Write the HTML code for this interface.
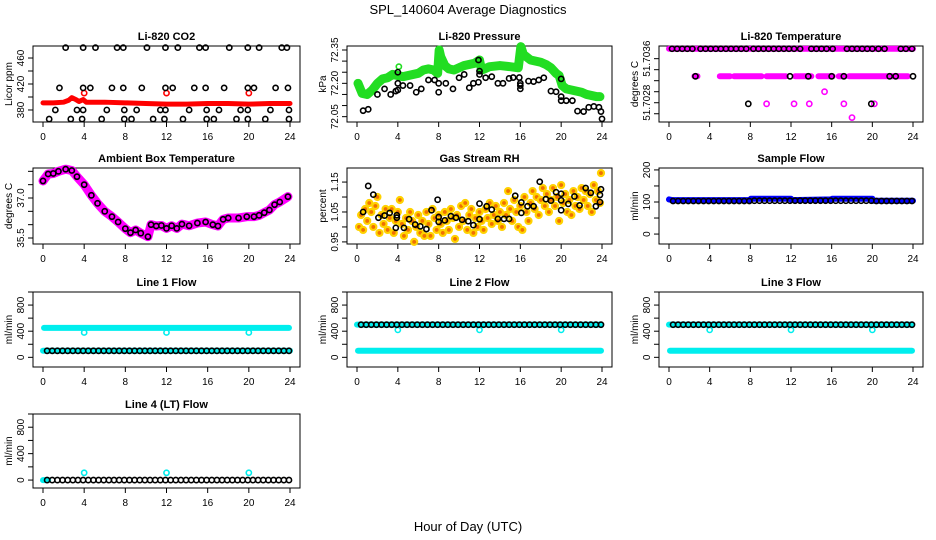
<!DOCTYPE html>
<html><head><meta charset="utf-8"><style>
html,body{margin:0;padding:0;background:#fff;}
svg{display:block;font-family:"Liberation Sans",sans-serif;}
</style></head><body>
<svg id="chart" width="936" height="540" viewBox="0 0 936 540">
<rect width="936" height="540" fill="#fff"/>
<text x="468" y="14" text-anchor="middle" font-size="13">SPL_140604  Average Diagnostics</text>
<text x="468" y="531" text-anchor="middle" font-size="13">Hour of Day (UTC)</text>
</svg>
<script>
// ---------- data ----------
const xTicks = [0,4,8,12,16,20,24];
// CO2
const co2RedLine = [[0,391],[1,391],[2,392],[2.5,395],[2.8,399],[3.2,396],[3.5,393],[3.9,396],[4.2,392],[6,392],[8,391],[10,390],[12,389],[14,389],[16,390],[18,390],[20,389],[22,390],[24,390]];
const co2RedPts = [[4,406],[12,406],[20,406]];
const co2TopH = [2.2,3.9,5.1,7.2,7.8,10.1,11.9,13.1,15.2,15.8,18.1,19.9,21,23.2,23.7];
const co2MidH = [1.6,3.9,4.6,6.7,7.8,9.6,11.9,12.6,14.7,15.8,17.6,19.9,20.5,22.6,23.8];
const co2LowH = [1.2,3.3,3.9,6.2,7.9,9.1,11.4,11.9,14.2,15.9,17.1,19.2,19.9,22.1,23.9];
const co2BotH = [0.6,2.7,3.8,5.7,7.9,8.6,10.7,11.8,13.6,15.9,16.6,18.8,19.9,21.6,23.9];
const co2Levels = [476,414,380,366];
// Pressure
const presGreen = [[0.1,72.20],[0.5,72.155],[1,72.15],[1.5,72.17],[2,72.20],[2.5,72.22],[3,72.225],[3.5,72.24],[4,72.235],[4.5,72.23],[5,72.235],[5.5,72.24],[6,72.245],[6.5,72.26],[7,72.265],[7.5,72.26],[7.9,72.245],[8.05,72.35],[8.2,72.32],[8.6,72.28],[9,72.265],[9.5,72.26],[10,72.27],[10.5,72.28],[11,72.285],[11.5,72.29],[12,72.305],[12.2,72.26],[12.5,72.265],[13,72.275],[14,72.28],[15,72.275],[15.8,72.27],[16.05,72.365],[16.3,72.33],[17,72.305],[17.5,72.3],[18,72.295],[18.5,72.285],[19,72.27],[19.5,72.245],[19.8,72.235],[20.1,72.19],[20.5,72.175],[21,72.17],[21.5,72.165],[22,72.16],[22.5,72.15],[23,72.145],[23.5,72.14],[23.8,72.14]];
const presGreenPts = [[0.1,72.20],[4.1,72.275],[8.05,72.35],[8.15,72.325],[12,72.305],[16.05,72.365],[16.15,72.33],[19.8,72.235]];
const presBlack = [[0.6,72.077],[1.1,72.083],[2,72.15],[2.7,72.175],[3.3,72.15],[3.8,72.165],[4,72.17],[4,72.2],[4,72.25],[4.5,72.19],[5.2,72.19],[5.8,72.16],[6.3,72.175],[7,72.215],[7.6,72.215],[8,72.2],[8,72.16],[8.7,72.2],[9.4,72.175],[10,72.225],[10.5,72.24],[11,72.18],[11.4,72.2],[11.9,72.205],[12,72.24],[12,72.255],[11.9,72.305],[12.6,72.225],[13.2,72.23],[13.8,72.2],[14.3,72.2],[14.9,72.222],[15.3,72.226],[15.9,72.226],[16,72.2],[16,72.19],[16,72.175],[16.8,72.21],[17.3,72.208],[17.8,72.215],[18.3,72.225],[19,72.165],[19.5,72.162],[20,72.22],[20,72.14],[20,72.122],[20.5,72.122],[21.1,72.122],[21.6,72.075],[22.2,72.073],[22.7,72.092],[23.2,72.096],[23.7,72.092],[23.9,72.073],[24,72.04]];
// Temperature
const tempTopBlackH = [0.3,0.8,1.3,1.8,2.3,3.1,3.6,4.1,4.6,5.1,5.6,6.1,6.6,7.1,7.6,8.3,8.8,9.3,9.8,10.3,10.8,11.3,11.8,12.3,12.9,14.0,14.5,15.0,15.5,16.1,17.5,18.0,18.5,19.0,19.5,20.0,20.6,21.2,22.8,23.3,23.9];
const tempMidMagSeg = [[2.5,2.8],[5,6],[6.4,9.1],[9.6,11.5],[12.4,14],[14.7,16.1],[16.7,17.3],[17.7,23.5]];
const tempMidBlackH = [2.6,11.9,13.7,16,17.2,21.7,22.3,24];
const tempLowBlackH = [7.8,19.9];
const tempLowMagH = [9.6,12.3,13.8,17.2,20.2];
const tempOddMag = [[15.3,51.7030],[18,51.70253]];
const tempLevels = [51.70378,51.70328,51.70278];
// Ambient
const ambient = [[0,37.64],[0.5,37.9],[1,37.92],[1.5,38.0],[2.2,38.08],[2.8,38.03],[3.3,37.8],[4,37.5],[4.7,37.1],[5.3,36.8],[6,36.5],[6.7,36.3],[7.3,36.1],[8,35.85],[8.5,35.7],[9,35.8],[9.5,35.68],[10.2,35.55],[10.5,36.0],[11,35.95],[11.5,35.97],[12,35.86],[12.5,35.96],[13,35.86],[13.5,36.02],[14.2,35.96],[15,36.06],[15.8,36.1],[16.5,36.0],[17,35.95],[17.5,36.2],[18,36.25],[19,36.25],[19.8,36.3],[20.5,36.3],[21,36.35],[21.5,36.45],[22,36.55],[22.5,36.75],[23,36.85],[23.8,37.05]];
// RH
const rhBlack = [[0.6,1.05],[1.1,1.137],[1.6,1.108],[2.1,1.031],[2.7,1.038],[3.2,1.047],[3.8,0.997],[3.9,1.031],[3.9,1.039],[4.6,0.997],[5.1,1.026],[5.7,1.008],[6.2,1.002],[6.8,0.993],[7.3,1.056],[7.9,1.091],[8,1.033],[8,1.017],[8.6,1.022],[9.2,1.036],[9.7,1.031],[10.3,1.024],[10.9,1.019],[11.4,1.006],[12,1.078],[12,1.026],[12.7,1.069],[13.2,1.058],[13.8,1.027],[14.4,1.027],[14.9,1.027],[15.5,1.104],[16.1,1.082],[16.1,1.047],[16.7,1.069],[17.3,1.069],[17.9,1.151],[18.5,1.093],[19,1.088],[19.5,1.116],[20,1.111],[20,1.089],[20,1.056],[20.7,1.077],[21.3,1.102],[21.8,1.072],[22.4,1.13],[22.9,1.114],[23.4,1.069],[23.8,1.107],[23.9,1.126],[23.8,1.083]];
const rhYellow = [[0.2,1.00],[0.4,1.04],[0.6,0.99],[0.8,1.06],[1.0,1.02],[1.2,1.08],[1.4,1.05],[1.6,1.00],[1.8,1.07],[2.0,1.10],[2.2,0.98],[2.4,1.04],[2.6,1.01],[2.8,1.06],[3.0,0.99],[3.2,1.03],[3.4,1.06],[3.6,0.98],[3.8,1.02],[4.0,1.05],[4.2,1.09],[4.4,1.01],[4.6,0.97],[4.8,1.03],[5.0,0.99],[5.2,1.05],[5.4,1.02],[5.6,0.95],[5.8,1.00],[6.0,1.04],[6.2,0.98],[6.4,1.02],[6.6,0.97],[6.8,1.05],[7.0,1.01],[7.2,0.97],[7.4,1.06],[7.6,1.03],[7.8,0.99],[8.0,1.04],[8.2,1.01],[8.4,0.98],[8.6,1.05],[8.8,1.02],[9.0,0.99],[9.2,1.06],[9.4,1.03],[9.6,0.96],[9.8,1.04],[10.0,1.00],[10.2,1.07],[10.4,1.02],[10.6,1.08],[10.8,0.99],[11.0,1.04],[11.2,1.06],[11.4,0.98],[11.6,1.03],[11.8,1.00],[12.0,1.05],[12.2,1.02],[12.4,0.99],[12.6,1.06],[12.8,1.03],[13.0,1.08],[13.2,1.01],[13.4,1.04],[13.6,1.07],[13.8,1.02],[14.0,1.05],[14.2,1.00],[14.4,1.08],[14.6,1.04],[14.8,1.12],[15.0,1.06],[15.2,1.02],[15.4,1.09],[15.6,1.05],[15.8,1.00],[16.0,1.07],[16.2,0.99],[16.4,1.10],[16.6,1.05],[16.8,1.02],[17.0,1.08],[17.2,1.12],[17.4,1.06],[17.6,1.10],[17.8,1.04],[18.0,1.09],[18.2,1.13],[18.4,1.07],[18.6,1.11],[18.8,1.05],[19.0,1.09],[19.2,1.13],[19.4,1.07],[19.6,1.10],[19.8,1.02],[20.0,1.14],[20.2,1.08],[20.4,1.11],[20.6,1.05],[20.8,1.09],[21.0,1.04],[21.2,1.12],[21.4,1.07],[21.6,1.10],[21.8,1.06],[22.0,1.13],[22.2,1.09],[22.4,1.12],[22.6,1.07],[22.8,1.11],[23.0,1.05],[23.2,1.14],[23.4,1.09],[23.6,1.12],[23.8,1.08],[23.9,1.18]];
// Sample flow
const sampleBlue = [[0,108],[0.3,106],[8,106],[8.05,110],[12,110],[12.05,106],[16,108],[16.05,110],[20,110],[20.05,104],[24,104]];
const sampleBlack = [103,103,103,103,103,103,103,103,103,103,103,103,103,103,103,103,104,104,104,104,104,104,104,104,104,104,104,104,104,104,104,104,104,104,104,104,104,104,104,104,103,103,103,103,103,103,103,103];
// Line flows
const line1Black = [100,100,100,100,100,100,100,100,100,100,100,100,100,100,100,100,100,100,100,100,100,100,100,100,100,100,100,100,100,100,100,100,100,100,100,100,100,100,100,100,100,100,100,100,100,100,100,100];
const line23Black = [500,500,500,500,500,500,500,500,500,500,500,500,500,500,500,500,500,500,500,500,500,500,500,500,500,500,500,500,500,500,500,500,500,500,500,500,500,500,500,500,500,500,500,500,500,500,500,500];
const line4Black = [0,0,0,0,0,0,0,0,0,0,0,0,0,0,0,0,0,0,0,0,0,0,0,0,0,0,0,0,0,0,0,0,0,0,0,0,0,0,0,0,0,0,0,0,0,0,0,0];
const line1Cyan = [[0.1,450],[23.9,450]];
const line1CyanLow = [[0,100],[24,100]];
const line1CyanPts = [[4,380],[12,380],[20,380]];
const line23CyanHigh = [[0,500],[23.9,500]];
const line23CyanLow = [[0.1,100],[23.9,100]];
const line23CyanPts = [[4,420],[12,420],[20,420]];
const line4Cyan = [[0,0],[0.5,0]];
const line4CyanPts = [[4,110],[12,110],[20,110]];

// ---------- drawing ----------
const NS = "http://www.w3.org/2000/svg";
const svg = document.getElementById('chart');
const cols = [[33,300],[347,612],[659,923]];
const rows = [[46,122],[168,244],[292,367],[414,488]];
function mk(tag, attrs, parent){
  const e = document.createElementNS(NS, tag);
  for (const k in attrs) e.setAttribute(k, attrs[k]);
  (parent||svg).appendChild(e);
  return e;
}
function panel(c, r, ylo, yhi, yTicks, yLabels, title, ylab, name){
  const [x0,x1] = cols[c], [y0,y1] = rows[r];
  const g = mk('g', {});
  
  
  const sx = h => x0 + 10 + h/24*(x1-x0-20);
  const sy = v => y1 - (v-ylo)/(yhi-ylo)*(y1-y0);
  const t = mk('text', {x:(x0+x1)/2, y:y0-6, 'text-anchor':'middle', 'font-size':11, 'font-weight':'bold'}, g);
  t.textContent = title;
  
  
  const box = mk('rect', {x:x0, y:y0, width:x1-x0, height:y1-y0, fill:'none', stroke:'#000', 'stroke-width':1}, g);
  
  
  const xa = mk('g', {}, g);
  
  
  mk('line', {x1:sx(0), x2:sx(24), y1:y1, y2:y1, stroke:'#000'}, xa);
  xTicks.forEach(h => {
    mk('line', {x1:sx(h), x2:sx(h), y1:y1, y2:y1+5, stroke:'#000'}, xa);
    const l = mk('text', {x:sx(h), y:y1+18, 'text-anchor':'middle', 'font-size':10}, xa);
    l.textContent = h;
  });
  const ya = mk('g', {}, g);
  
  
  yTicks.forEach(v => mk('line', {x1:x0-5, x2:x0, y1:sy(v), y2:sy(v), stroke:'#000'}, ya));
  yLabels.forEach(v => {
    const l = mk('text', {x:0, y:0, 'text-anchor':'middle', 'font-size':10,
      transform:`translate(${x0-9},${sy(v)}) rotate(-90)`}, ya);
    l.textContent = String(v);
  });
  const yt = mk('text', {x:0, y:0, 'text-anchor':'middle', 'font-size':10,
    transform:`translate(${x0-21},${(y0+y1)/2}) rotate(-90)`}, ya);
  yt.textContent = ylab;
  
  
  return {g, sx, sy};
}
function band(p, pts, color, w, nm){
  const pl = mk('polyline', {points: pts.map(d => p.sx(d[0])+','+p.sy(d[1])).join(' '), fill:'none', stroke:color, 'stroke-width':w, 'stroke-linejoin':'round', 'stroke-linecap':'round'}, p.g);
  
  
}
function dots(p, pts, color, nm, r, sw, fill){
  const g = mk('g', {}, p.g);
  
  
  pts.forEach(d => mk('circle', {cx:p.sx(d[0]), cy:p.sy(d[1]), r:r||2.6, fill:fill||'none', stroke:color, 'stroke-width':sw||1.6}, g));
}
const halfHours = sampleBlack.map((_, i) => 0.5*(i+1) - 0.1);
const withHours = arr => arr.map((v, i) => [halfHours[i], v]);

// CO2
let p = panel(0,0, 361.5, 478.5, [380,400,420,440,460], [380,420,460], 'Li-820 CO2', 'Licor ppm', 'co2');
band(p, co2RedLine, '#ff0000', 5, 'co2-red-series');
dots(p, co2RedPts, '#ff0000', 'co2-red-points');
[co2TopH, co2MidH, co2LowH, co2BotH].forEach((hs, k) => dots(p, hs.map(h => [h, co2Levels[k]]), '#000', 'co2-black-points'));

// Pressure
p = panel(1,0, 72.026, 72.368, [72.05,72.10,72.15,72.20,72.25,72.30,72.35], [72.05,72.20,72.35], 'Li-820 Pressure', 'kPa', 'pressure');
p.g.querySelectorAll('text').forEach(t => { if (t.textContent === '72.2') t.textContent = '72.20'; });
band(p, presGreen, '#22dd22', 9, 'pressure-green-series');
dots(p, presGreenPts, '#22dd22', 'pressure-green-points');
dots(p, presBlack, '#000', 'pressure-black-points');

// Temperature
p = panel(2,0, 51.70245, 51.70383, [51.7026,51.7028,51.7030,51.7032,51.7034,51.7036], [51.7028,51.7036], 'Li-820 Temperature', 'degrees C', 'temperature');
band(p, [[0,tempLevels[0]],[24,tempLevels[0]]], '#ff00ff', 6, 'temperature-magenta-top');
tempMidMagSeg.forEach(s => band(p, [[s[0],tempLevels[1]],[s[1],tempLevels[1]]], '#ff00ff', 6, 'temperature-magenta-mid'));
dots(p, tempLowMagH.map(h => [h, tempLevels[2]]), '#ff00ff', 'temperature-magenta-low');
dots(p, tempOddMag, '#ff00ff', 'temperature-magenta-outliers');
dots(p, tempTopBlackH.map(h => [h, tempLevels[0]]), '#000', 'temperature-black-top');
dots(p, tempMidBlackH.map(h => [h, tempLevels[1]]), '#000', 'temperature-black-mid');
dots(p, tempLowBlackH.map(h => [h, tempLevels[2]]), '#000', 'temperature-black-low');

// Ambient
p = panel(0,1, 35.275, 38.125, [35.5,36,36.5,37,37.5,38], [35.5,37.0], 'Ambient Box Temperature', 'degrees C', 'ambient');
p.g.querySelectorAll('text').forEach(t => { if (t.textContent === '37') t.textContent = '37.0'; });
band(p, ambient, '#ff00ff', 9, 'ambient-magenta-series');
dots(p, ambient, '#000', 'ambient-black-points');

// RH
p = panel(1,1, 0.943, 1.197, [0.95,1.0,1.05,1.1,1.15], [0.95,1.05,1.15], 'Gas Stream RH', 'percent', 'rh');
dots(p, rhYellow, '#ffd200', 'rh-yellow-points', 3.0, 2.2, '#f07000');
dots(p, rhBlack, '#000', 'rh-black-points');

// Sample
p = panel(2,1, -31, 206, [0,50,100,150,200], [0,100,200], 'Sample Flow', 'ml/min', 'sample-flow');
band(p, sampleBlue, '#0000ff', 6, 'sample-blue-series');
dots(p, withHours(sampleBlack), '#000', 'sample-black-points');

// Line flows
const fTicks = [0,200,400,600,800,1000], fLab = [0,400,800];
p = panel(0,2, -148, 1000, fTicks, fLab, 'Line 1 Flow', 'ml/min', 'line1-flow');
band(p, line1Cyan, '#00eeee', 6, 'line1-cyan-high');
band(p, line1CyanLow, '#00eeee', 6, 'line1-cyan-low');
dots(p, line1CyanPts, '#00eeee', 'line1-cyan-points');
dots(p, withHours(line1Black), '#000', 'line1-black-points');

p = panel(1,2, -148, 1000, fTicks, fLab, 'Line 2 Flow', 'ml/min', 'line2-flow');
band(p, line23CyanHigh, '#00eeee', 6, 'line2-cyan-high');
band(p, line23CyanLow, '#00eeee', 6, 'line2-cyan-low');
dots(p, line23CyanPts, '#00eeee', 'line2-cyan-points');
dots(p, withHours(line23Black), '#000', 'line2-black-points');

p = panel(2,2, -148, 1000, fTicks, fLab, 'Line 3 Flow', 'ml/min', 'line3-flow');
band(p, line23CyanHigh, '#00eeee', 6, 'line3-cyan-high');
band(p, line23CyanLow, '#00eeee', 6, 'line3-cyan-low');
dots(p, line23CyanPts, '#00eeee', 'line3-cyan-points');
dots(p, withHours(line23Black), '#000', 'line3-black-points');

p = panel(0,3, -120, 1000, fTicks, fLab, 'Line 4 (LT) Flow', 'ml/min', 'line4-flow');
band(p, line4Cyan, '#00eeee', 6, 'line4-cyan-series');
dots(p, line4CyanPts, '#00eeee', 'line4-cyan-points');
dots(p, withHours(line4Black), '#000', 'line4-black-points');
</script>
</body></html>
